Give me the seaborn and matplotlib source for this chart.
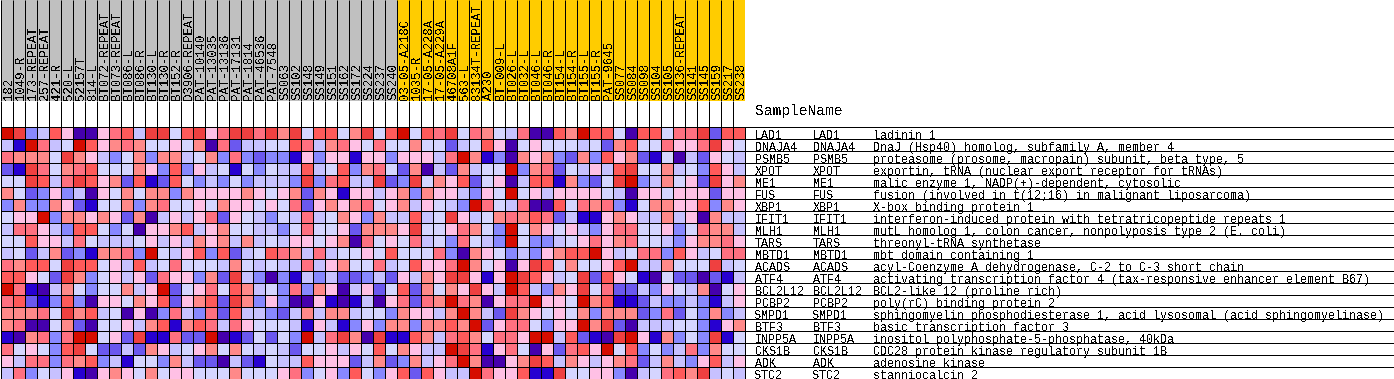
import matplotlib
matplotlib.use('Agg')
import matplotlib.pyplot as plt
from matplotlib.colors import ListedColormap
import numpy as np
import seaborn as sns

# expression level colours, low to high
level_colors = ['#4500AD', '#2700D1', '#6B58EF', '#8888FF', '#C7C1FF', '#D5D5FF',
                '#FFC0E5', '#FF8989', '#FF7080', '#FF5A5A', '#EF4040', '#D60C00']

group_a = ['182', '1049-R', '173-REPEAT', '257-REPEAT', '421-R', '520-L', '52157T', '814-L',
           'BT072-REPEAT', 'BT073-REPEAT', 'BT086-L', 'BT086-R', 'BT130-L', 'BT130-R', 'BT152-R',
           'D3906-REPEAT', 'PAT-10140', 'PAT-13035', 'PAT-13136', 'PAT-17131', 'PAT-1814',
           'PAT-46536', 'PAT-7548', 'SS063', 'SS102', 'SS148', 'SS149', 'SS151', 'SS162', 'SS172',
           'SS224', 'SS237', 'SS240']
group_b = ['03-05-A218C', '1035-R', '17-05-A228A', '17-05-A229A', '46708A1F', '563-L',
           '83134T-REPEAT', 'A230', 'BT-009-L', 'BT026-L', 'BT032-L', 'BT046-L', 'BT046-R',
           'BT154-L', 'BT154-R', 'BT155-L', 'BT155-R', 'PAT-9645', 'SS077', 'SS084', 'SS098',
           'SS104', 'SS105', 'SS136-REPEAT', 'SS141', 'SS145', 'SS159', 'SS217', 'SS238']

genes = ['LAD1', 'DNAJA4', 'PSMB5', 'XPOT', 'ME1', 'FUS', 'XBP1', 'IFIT1', 'MLH1', 'TARS', 'MBTD1',
         'ACADS', 'ATF4', 'BCL2L12', 'PCBP2', 'SMPD1', 'BTF3', 'INPP5A', 'CKS1B', 'ADK', 'STC2']
descriptions = ['ladinin 1',
                'DnaJ (Hsp40) homolog, subfamily A, member 4',
                'proteasome (prosome, macropain) subunit, beta type, 5',
                'exportin, tRNA (nuclear export receptor for tRNAs)',
                'malic enzyme 1, NADP(+)-dependent, cytosolic',
                'fusion (involved in t(12;16) in malignant liposarcoma)',
                'X-box binding protein 1',
                'interferon-induced protein with tetratricopeptide repeats 1',
                'mutL homolog 1, colon cancer, nonpolyposis type 2 (E. coli)',
                'threonyl-tRNA synthetase',
                'mbt domain containing 1',
                'acyl-Coenzyme A dehydrogenase, C-2 to C-3 short chain',
                'activating transcription factor 4 (tax-responsive enhancer element B67)',
                'BCL2-like 12 (proline rich)',
                'poly(rC) binding protein 2',
                'sphingomyelin phosphodiesterase 1, acid lysosomal (acid sphingomyelinase)',
                'basic transcription factor 3',
                'inositol polyphosphate-5-phosphatase, 40kDa',
                'CDC28 protein kinase regulatory subunit 1B',
                'adenosine kinase',
                'stanniocalcin 2']

# one list per gene, value = colour level 0-11
LAD1 = [11,10,3,4,9,6,0,0,6,8,9,4,10,10,5,9,10,6,8,10,10, 8,10,7,10,5,9,9,5,7,10,5,9,11,5,9,8,10,5,8,7,5, 4,8,0,0,9,7,11,9,9,5,0,9,9,5,8,8,10,2,9,9]
DNAJA4 = [4,1,11,8,4,5,11,9,6,7,8,7,5,5,6,5,7,0,8,2,4, 4,5,5,9,8,4,7,8,6,5,8,5,5,7,5,5,2,4,5,9,6, 0,5,6,5,5,5,4,5,2,7,9,5,5,8,6,6,8,10,6,5]
PSMB5 = [8,7,7,7,5,10,7,6,4,3,5,7,3,7,7,4,5,7,3,8,3, 2,3,3,1,6,3,6,6,1,6,6,3,6,6,6,4,8,11,7,1,3, 0,7,6,7,3,2,7,3,9,6,7,2,1,5,0,4,2,6,5,4]
XPOT = [2,1,10,8,5,7,8,9,5,5,5,7,6,3,9,3,6,4,5,1,5, 3,5,4,4,9,4,5,9,3,7,8,5,2,7,0,4,2,7,4,5,5, 11,3,7,8,2,5,4,6,4,9,10,5,5,7,4,5,3,9,6,4]
ME1 = [5,5,10,9,4,8,10,9,6,7,2,9,1,2,9,5,3,4,3,5,3, 4,4,4,3,10,3,8,9,4,4,10,2,3,10,5,7,6,9,2,5,6, 0,4,9,9,1,7,3,2,5,10,11,3,4,7,5,6,2,10,6,7]
FUS = [7,5,2,3,6,3,4,0,6,5,7,5,7,7,3,7,6,6,6,6,7, 6,5,6,7,2,7,6,1,6,6,4,6,7,3,7,6,6,4,3,6,5, 11,5,6,4,6,6,6,6,5,4,0,6,6,5,6,6,6,2,6,6]
XBP1 = [3,7,3,3,7,6,2,1,5,5,7,3,7,8,5,5,6,5,7,6,6, 5,6,5,8,2,6,7,6,7,8,5,6,7,4,6,5,4,3,11,8,5, 4,8,0,0,9,5,8,7,8,3,1,5,7,7,6,6,9,3,7,6]
IFIT1 = [5,6,6,11,3,7,7,6,7,6,2,7,0,4,6,4,6,8,2,6,5, 4,3,5,4,8,4,5,7,6,3,7,4,4,9,4,5,10,6,4,5,7, 8,7,9,8,2,4,1,1,6,7,6,4,4,7,4,6,0,7,4,4]
MLH1 = [4,8,8,6,4,3,9,9,5,3,5,0,6,6,7,9,4,6,7,5,5, 4,4,3,5,8,5,5,6,2,7,7,7,6,10,5,5,6,8,7,5,3, 11,5,7,6,5,6,4,3,6,8,8,5,5,6,3,5,8,7,7,4]
TARS = [5,5,9,6,6,4,8,5,4,4,4,5,6,4,6,4,7,6,7,4,7, 4,5,4,6,6,5,6,7,0,8,5,6,5,8,4,5,3,8,5,4,3, 11,5,3,3,4,5,6,8,6,7,8,5,5,4,3,6,7,7,8,6]
MBTD1 = [4,5,2,4,7,2,3,1,7,7,8,3,11,5,4,6,9,3,9,2,4, 5,9,8,7,4,8,4,5,5,6,5,9,5,5,5,8,3,0,7,6,5, 3,4,3,6,7,9,9,11,6,4,5,8,8,3,9,6,4,5,8,8]
ACADS = [8,7,9,9,5,10,9,9,5,6,4,9,4,5,8,5,5,5,4,7,5, 4,5,4,4,8,4,6,7,5,5,8,4,5,9,6,6,8,11,7,5,6, 0,6,10,9,5,7,5,5,6,9,11,4,4,7,5,5,5,10,4,5]
ATF4 = [9,9,6,5,2,10,7,3,5,6,4,6,2,8,6,6,3,7,2,10,4, 3,0,3,1,4,3,4,2,2,3,4,2,6,4,7,6,10,10,6,1,6, 11,10,9,6,4,5,10,2,9,6,5,1,0,5,2,2,0,2,1,4]
BCL2L12 = [11,8,1,0,4,7,5,3,5,5,7,4,6,11,2,5,6,8,5,9,7, 4,5,3,8,3,7,6,0,4,6,2,5,9,2,7,5,7,6,10,6,4, 11,9,4,3,7,6,10,5,8,2,2,4,3,6,5,4,7,0,5,6]
PCBP2 = [8,9,2,1,3,9,3,0,6,6,5,7,6,9,2,6,7,9,2,10,7, 3,6,3,0,0,6,1,0,1,4,0,6,8,2,8,7,11,8,7,0,6, 8,8,11,6,6,5,11,7,9,1,1,2,4,3,3,4,3,1,4,6]
SMPD1 = [7,7,7,8,5,10,7,9,4,5,0,6,0,3,8,4,3,8,2,9,4, 4,3,2,4,7,4,7,7,4,5,5,3,7,6,6,4,7,11,7,4,2, 10,7,6,5,6,5,7,3,7,7,7,2,3,8,2,5,3,7,3,4]
BTF3 = [7,8,0,0,5,7,2,0,5,5,6,4,7,9,1,7,9,8,4,8,6, 5,5,5,4,1,6,4,1,3,6,3,7,7,3,7,7,9,7,11,2,6, 8,8,5,3,6,6,11,7,10,2,0,4,4,4,5,5,3,1,6,7]
INPP5A = [1,0,7,8,3,8,11,11,5,6,2,10,1,1,8,2,2,11,0,1,2, 5,2,5,3,11,4,8,10,7,0,10,1,1,9,7,4,8,9,7,5,8, 8,6,11,11,4,9,2,1,0,10,11,6,1,7,3,5,3,10,1,5]
CKS1B = [8,5,6,5,3,9,10,5,2,2,4,2,7,6,4,5,6,7,5,7,5, 4,5,4,2,5,5,6,4,6,5,9,5,7,6,4,4,11,10,8,1,6, 8,5,0,6,2,8,9,6,11,5,9,3,5,3,4,8,3,7,5,5]
ADK = [6,4,8,8,3,8,7,9,3,4,1,5,5,3,7,4,2,2,0,4,2, 1,5,4,4,9,6,6,6,2,4,7,2,3,7,4,6,8,11,7,0,0, 6,7,10,9,4,7,6,4,6,7,8,2,4,7,4,3,6,9,4,6]
STC2 = [4,8,3,5,4,6,1,0,6,7,6,5,7,5,6,6,5,5,5,7,5, 5,5,6,8,3,5,6,3,9,5,3,6,9,2,9,6,4,4,11,8,6, 6,9,1,1,10,5,5,6,6,3,0,4,5,8,9,7,10,4,5,4]

W, H = 1394.0, 379.0
TXT = dict(family='Liberation Mono', color='black', antialiased=False)


def px_axes(fig, x0, y0, x1, y1):
    # axes from pixel box, y counted from the top of the image
    return fig.add_axes([x0 / W, 1 - y1 / H, (x1 - x0) / W, (y1 - y0) / H])


def main():
    sns.set_theme(style='white')
    fig = plt.figure(figsize=(W / 100, H / 100), dpi=100, facecolor='white')
    samples = group_a + group_b
    ncol = len(samples)
    matrix = np.array([LAD1, DNAJA4, PSMB5, XPOT, ME1, FUS, XBP1, IFIT1, MLH1, TARS, MBTD1, ACADS,
                       ATF4, BCL2L12, PCBP2, SMPD1, BTF3, INPP5A, CKS1B, ADK, STC2])
    nrow = matrix.shape[0]

    # sample header, gray and orange groups
    head = px_axes(fig, 0.5, 0, 0.5 + 12 * ncol, 100.5)
    groups = np.array([[0] * len(group_a) + [1] * len(group_b)])
    sns.heatmap(groups, ax=head, cmap=ListedColormap(['#C0C0C0', '#FFCC00']), vmin=0, vmax=1,
                cbar=False, xticklabels=False, yticklabels=False, linewidths=0)
    head.vlines(np.arange(ncol + 1), 0, 1, color='black', lw=0.72)
    for i, name in enumerate(samples):
        head.text(i + 0.98, 0.995, name, rotation=90, ha='left', va='baseline',
                  rotation_mode='anchor', fontsize=8.9, **TXT)

    # white gap, lines keep going
    gap = px_axes(fig, 0.5, 100.5, 0.5 + 12 * ncol, 126.5)
    gap.set_xlim(0, ncol)
    gap.set_ylim(1, 0)
    gap.axis('off')
    gap.vlines(np.arange(ncol + 1), 0, 1, color='black', lw=0.72)

    # the heat map itself
    ax = px_axes(fig, 0.5, 126.5, 0.5 + 12 * ncol, 126.5 + 12 * nrow)
    sns.heatmap(matrix, ax=ax, cmap=ListedColormap(level_colors), vmin=-0.5, vmax=11.5, cbar=False,
                xticklabels=False, yticklabels=False, linewidths=0.72, linecolor='black')
    for coll in ax.collections:
        coll.set_clip_on(False)

    # gene table on the right
    tab = px_axes(fig, 744.5, 126.5, W, 126.5 + 12 * nrow)
    tab.set_xlim(744.5, W)
    tab.set_ylim(nrow, 0)
    tab.axis('off')
    tab.hlines(np.arange(nrow + 1), 744.5, W, color='black', lw=0.72, clip_on=False)
    for r in range(nrow):
        y = r + 1.06
        tab.text(755, y, genes[r], va='baseline', fontsize=8.5, **TXT)
        tab.text(813, y, genes[r], va='baseline', fontsize=8.5, **TXT)
        tab.text(873, y, descriptions[r], va='baseline', fontsize=8.5, **TXT)
    fig.text(755 / W, 1 - 115 / H, 'SampleName', va='baseline', fontsize=10.5, **TXT)

    fig.savefig('out.png', dpi=100, facecolor='white')


if __name__ == "__main__":
    main()
